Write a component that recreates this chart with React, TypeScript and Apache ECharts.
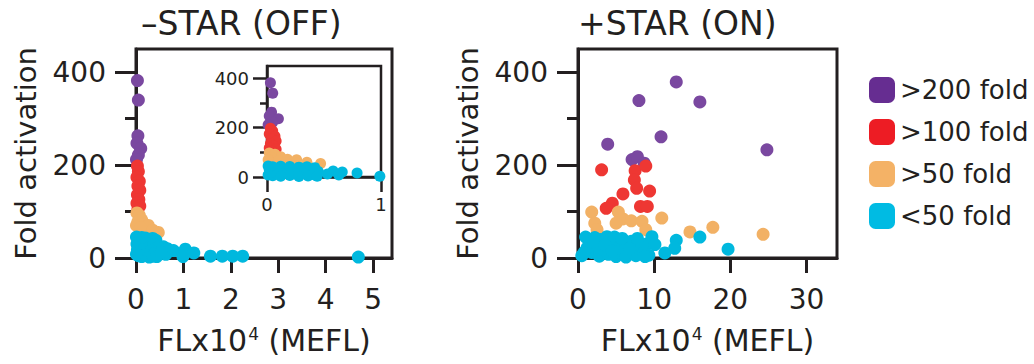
import React, { useEffect, useRef } from "react";
import * as echarts from "echarts";

// ---------- data ----------
const legendNames = [">200 fold", ">100 fold", ">50 fold", "<50 fold"];
const dotColors = ["#7A48A0", "#EE3733", "#F2B165", "#00B8DE"];
const legendColors = ["#662D91", "#ED1C24", "#F4B266", "#00BBE3"];

// –STAR (OFF): [FLx10^4, fold activation]
const offPurple: number[][] = [
  [0.03, 382], [0.05, 340], [0.04, 263], [0.02, 247], [0.1, 236], [0.05, 222], [0.01, 212],
];
const offRed: number[][] = [
  [0.03, 198], [0.05, 186], [0.02, 174], [0.07, 165], [0.04, 155], [0.08, 146], [0.03, 136],
  [0.06, 126], [0.02, 118], [0.08, 112], [0.04, 105],
];
const offOrange: number[][] = [
  [0.02, 97], [0.07, 92], [0.12, 82], [0.04, 78], [0.01, 70], [0.18, 72], [0.26, 70],
  [0.1, 65], [0.47, 55], [0.35, 60],
];
const offCyan: number[][] = [
  [0.01, 45], [0.05, 42], [0.12, 44], [0.2, 43], [0.28, 40], [0.35, 42], [0.42, 38],
  [0.02, 30], [0.08, 32], [0.15, 28], [0.22, 30], [0.3, 25], [0.38, 28], [0.45, 22],
  [0.03, 18], [0.1, 15], [0.18, 18], [0.25, 12], [0.33, 15], [0.4, 10], [0.05, 5],
  [0.12, 3], [0.2, 6], [0.28, 2], [0.36, 4], [0.44, 3], [0.01, 8], [0.58, 24], [0.66, 20],
  [0.79, 16], [0.63, 8], [0.53, 12], [0.99, 3], [1.04, 19], [1.22, 11], [1.57, 4],
  [1.82, 4], [2.04, 4], [2.25, 4], [4.69, 2],
];

// +STAR (ON)
const onPurple: number[][] = [
  [12.9, 379], [8.0, 339], [16.0, 336], [10.9, 261], [3.9, 245], [24.8, 233], [7.1, 212],
  [7.8, 218], [8.7, 204],
];
const onRed: number[][] = [
  [3.1, 190], [7.5, 188], [8.9, 198], [7.4, 168], [7.7, 150], [5.9, 138], [9.4, 144],
  [4.5, 118], [3.7, 107], [8.2, 111], [9.1, 111],
];
const onOrange: number[][] = [
  [1.8, 99], [5.3, 99], [2.2, 75], [5.9, 84], [7.0, 80], [5.0, 75], [8.4, 79], [11.0, 86],
  [8.9, 61], [14.7, 56], [17.7, 66], [24.3, 51], [2.5, 61],
];
const onCyan: number[][] = [
  [0.5, 5], [1.0, 45], [1.5, 30], [1.8, 12], [2.2, 44], [2.5, 25], [2.8, 4], [3.0, 40],
  [3.3, 18], [3.8, 46], [4.0, 8], [4.3, 32], [4.8, 45], [5.0, 3], [5.3, 22], [5.6, 12],
  [6.0, 38], [6.3, 2], [6.6, 28], [7.0, 36], [7.3, 15], [7.6, 5], [8.0, 33], [8.3, 22],
  [8.6, 10], [9.0, 30], [9.3, 6], [9.7, 46], [10.1, 29], [1.2, 22], [2.0, 35], [3.5, 28],
  [4.5, 15], [5.8, 42], [6.8, 20], [7.8, 42], [8.8, 3], [0.8, 12], [11.4, 11], [12.9, 38],
  [12.7, 21], [16.0, 45], [19.7, 19],
];

const offXTicks = [0, 1, 2, 3, 4, 5];
const insetXTicks = [0, 1];
const onXTicks = [0, 10, 20, 30];
const yMajorTicks = [0, 200, 400];
const yMinorTicks = [100, 300];

// ---------- style ----------
const FONT = '"DejaVu Sans", "Liberation Sans", sans-serif';
const INK = "#231F20";

export default function App() {
  const ref = useRef<HTMLDivElement>(null);

  useEffect(() => {
    if (!ref.current) return;
    const chart = echarts.init(ref.current, undefined, { renderer: "svg" });

    const lineW = 3;
    const mkX = (grid: number, max: number, ticks: number[], big: boolean, name?: string) => ({
      type: "value",
      gridIndex: grid,
      min: 0,
      max,
      position: "bottom",
      splitLine: { show: false },
      axisLine: { show: true, onZero: false, lineStyle: { color: INK, width: big ? lineW : 2.5 } },
      axisTick: {
        show: true,
        customValues: ticks,
        length: 15,
        lineStyle: { color: INK, width: big ? lineW : 2.5 },
      },
      axisLabel: {
        customValues: ticks,
        margin: big ? 27 : 18,
        fontSize: big ? 28 : 18,
        fontFamily: FONT,
        color: INK,
      },
      name: name,
      nameLocation: "middle",
      nameGap: 67,
      nameTextStyle: {
        fontSize: 30,
        fontFamily: FONT,
        color: INK,
        rich: {
          sup: { fontSize: 17, fontFamily: FONT, color: INK, verticalAlign: "top", padding: [0, 0, 4, 1] },
        },
      },
    });
    const mkYMajor = (grid: number, big: boolean, name?: string) => ({
      type: "value",
      gridIndex: grid,
      min: 0,
      max: 450,
      position: "left",
      offset: 0,
      splitLine: { show: false },
      axisLine: { show: true, onZero: false, lineStyle: { color: INK, width: big ? lineW : 2.5 } },
      axisTick: {
        show: true,
        customValues: yMajorTicks,
        length: big ? 21 : 14,
        lineStyle: { color: INK, width: big ? lineW : 2.5 },
      },
      axisLabel: {
        customValues: yMajorTicks,
        margin: big ? 30 : 18,
        fontSize: big ? 28 : 18,
        fontFamily: FONT,
        color: INK,
      },
      name: name,
      nameLocation: "middle",
      nameRotate: 90,
      nameGap: 96,
      nameTextStyle: { fontSize: 29, fontFamily: FONT, color: INK },
    });
    const mkYMinor = (grid: number, big: boolean) => ({
      type: "value",
      gridIndex: grid,
      min: 0,
      max: 450,
      position: "left",
      offset: 0,
      splitLine: { show: false },
      axisLine: { show: false },
      axisTick: {
        show: true,
        customValues: yMinorTicks,
        length: big ? 11 : 7,
        lineStyle: { color: INK, width: big ? lineW : 2.5 },
      },
      axisLabel: { show: false },
    });

    const groups = [
      { data: [offPurple, offRed, offOrange, offCyan], x: 0, y: 0, size: 13 },
      { data: [offPurple, offRed, offOrange, offCyan], x: 1, y: 2, size: 11 },
      { data: [onPurple, onRed, onOrange, onCyan], x: 2, y: 4, size: 13 },
    ];
    const series: any[] = [];
    groups.forEach((g) => {
      g.data.forEach((d, i) => {
        series.push({
          type: "scatter",
          name: legendNames[i],
          xAxisIndex: g.x,
          yAxisIndex: g.y,
          data: d,
          symbolSize: g.size,
          itemStyle: { color: dotColors[i], opacity: 1 },
          emphasis: { disabled: true },
          z: 3,
        });
      });
    });

    const xName = "FLx10{sup|4} (MEFL)";

    chart.setOption({
      animation: false,
      backgroundColor: "#ffffff",
      textStyle: { fontFamily: FONT },
      title: [
        {
          text: "–STAR (OFF)",
          left: 141,
          top: 7,
          padding: 0,
          textStyle: { fontSize: 33, fontWeight: "normal", fontFamily: FONT, color: INK },
        },
        {
          text: "+STAR (ON)",
          left: 578,
          top: 7,
          padding: 0,
          textStyle: { fontSize: 33, fontWeight: "normal", fontFamily: FONT, color: INK },
        },
      ],
      legend: {
        data: legendNames.map((n, i) => ({ name: n, itemStyle: { color: legendColors[i] } })),
        orient: "vertical",
        left: 869,
        top: 77,
        padding: 0,
        icon: "roundRect",
        itemWidth: 26,
        itemHeight: 26,
        itemGap: 16,
        selectedMode: false,
        textStyle: { fontSize: 26, fontFamily: FONT, color: INK, padding: [0, 0, 0, 0] },
      },
      grid: [
        { left: 136, top: 49, width: 256, height: 209, show: true, borderColor: INK, borderWidth: lineW, backgroundColor: "transparent" },
        { left: 267, top: 66, width: 114, height: 111, show: true, borderColor: INK, borderWidth: 2.5, backgroundColor: "#ffffff" },
        { left: 578, top: 49, width: 259, height: 209, show: true, borderColor: INK, borderWidth: lineW, backgroundColor: "transparent" },
      ],
      xAxis: [
        mkX(0, 5.4, offXTicks, true, xName),
        mkX(1, 1, insetXTicks, false),
        mkX(2, 34, onXTicks, true, xName),
      ],
      yAxis: [
        mkYMajor(0, true, "Fold activation"),
        mkYMinor(0, true),
        mkYMajor(1, false),
        mkYMinor(1, false),
        mkYMajor(2, true, "Fold activation"),
        mkYMinor(2, true),
      ],
      series,
    });

    return () => chart.dispose();
  }, []);

  return (
    <div
      ref={ref}
      style={{ position: "fixed", left: 0, top: 0, width: 1034, height: 364, background: "#fff" }}
    />
  );
}
